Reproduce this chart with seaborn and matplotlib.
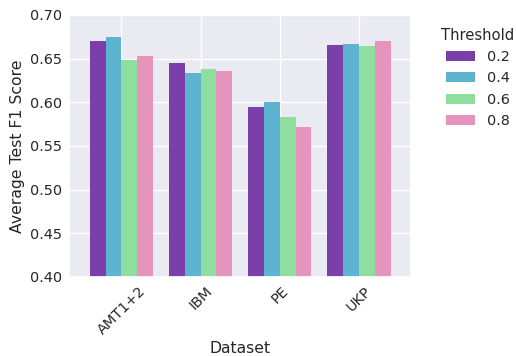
import pandas as pd
import matplotlib
matplotlib.use("Agg")
import matplotlib.pyplot as plt
import seaborn as sns

datasets = ["AMT1+2", "IBM", "PE", "UKP"]
thresholds = ["0.2", "0.4", "0.6", "0.8"]
scores_02 = [0.670, 0.645, 0.595, 0.666]
scores_04 = [0.675, 0.634, 0.600, 0.667]
scores_06 = [0.648, 0.638, 0.583, 0.665]
scores_08 = [0.653, 0.636, 0.572, 0.670]
palette = ["#7B3FAA", "#5CB4D1", "#8EDF9D", "#E693BE"]

rows = []
for th, vals in zip(thresholds, [scores_02, scores_04, scores_06, scores_08]):
    for ds, v in zip(datasets, vals):
        rows.append({"Dataset": ds, "Threshold": th, "Score": v})
df = pd.DataFrame(rows)

sns.set_theme(style="darkgrid", font_scale=0.94)
fig = plt.figure(figsize=(5.16, 3.56), dpi=100)
ax = fig.add_axes([0.134, 0.222, 0.663, 0.736])
sns.barplot(data=df, x="Dataset", y="Score", hue="Threshold",
            palette=palette, saturation=1, linewidth=0, ax=ax)
ax.xaxis.grid(True)
ax.set_axisbelow(True)
ax.set_xlim(-0.66, 3.66)
ax.set_ylim(0.40, 0.70)
ax.tick_params(axis="x", length=0, pad=5)
ax.tick_params(axis="y", length=0, pad=5)
ax.set_ylabel("Average Test F1 Score", labelpad=4)
ax.set_xlabel("Dataset", labelpad=3)
plt.setp(ax.get_xticklabels(), rotation=45)
ax.legend(title="Threshold", title_fontsize=10.6, fontsize=10.4,
          bbox_to_anchor=(1.05, 1.0), loc="upper left", frameon=False)
fig.savefig("out.png", dpi=100)
